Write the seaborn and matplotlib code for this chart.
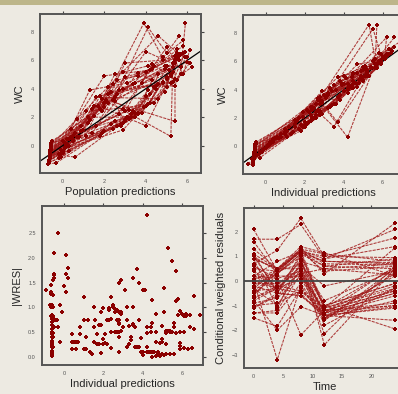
import numpy as np
import pandas as pd
import matplotlib
matplotlib.use('Agg')
import matplotlib.pyplot as plt
from matplotlib.patches import Rectangle
import seaborn as sns

# sampling times
times = [0, 4, 8, 12, 24]

# per-time values, one entry per subject (45 subjects)
pred_t0 = [-0.62, -0.6, -0.66, -0.58, -0.61, -0.55, -0.64, -0.6, -0.57, -0.62, -0.7, -0.59, -0.56, -0.63, -0.6,
           -0.66, -0.57, -0.61, -0.53, -0.6, -0.62, -0.65, -0.58, -0.6, -0.68, -0.59, -0.55, -0.63, -0.61, -0.57,
           -0.66, -0.6, -0.62, -0.56, -0.6, -0.64, -0.59, -0.62, -0.57, -0.63, -0.6, -0.65, -0.58, -0.61, -0.55]
ipred_t0 = [-0.6, -0.58, -0.65, -0.55, -0.6, -0.5, -0.63, -0.6, -0.56, -0.61, -0.67, -0.57, -0.54, -0.62, -0.6,
            -0.65, -0.55, -0.6, -0.5, -0.59, -0.62, -0.64, -0.56, -0.6, -0.66, -0.58, -0.53, -0.62, -0.61, -0.57,
            -0.65, -0.59, -0.62, -0.55, -0.6, -0.63, -0.57, -0.61, -0.55, -0.62, -0.59, -0.64, -0.56, -0.6, -0.52]
dv_t0 = [-0.9, -0.5, -1.2, -0.3, -0.7, 0.2, -1.0, -0.6, -0.2, -0.8, -1.3, -0.4, 0.0, -0.9, -0.6,
         -1.1, -0.1, -0.7, 0.3, -0.5, -0.8, -1.0, -0.3, -0.6, -1.2, -0.4, 0.1, -0.9, -0.7, -0.2,
         -1.1, -0.5, -0.8, 0.0, -0.6, -1.0, -0.3, -0.7, -0.1, -0.9, -0.4, -1.1, -0.2, -0.6, 0.2]
cwres_t0 = [-0.7, 0.2, -1.3, 0.7, -0.2, 1.7, -0.9, 0.0, 0.9, -0.4, -1.5, 0.4, 1.3, -0.6, 0.0,
            -1.1, 1.1, -0.2, 2.1, 0.2, -0.4, -0.8, 0.6, 0.1, -1.3, 0.5, 1.6, -0.7, -0.3, 0.9,
            -1.0, 0.2, -0.5, 1.0, -0.1, -0.8, 0.7, -0.3, 1.1, -0.6, 0.4, -1.1, 0.9, 0.05, 1.0]
iwres_t0 = [0.7, 0.2, 1.3, 0.6, 0.25, 1.65, 0.85, 0.05, 0.8, 0.45, 1.45, 0.4, 1.25, 0.65, 0.02,
            1.05, 1.0, 0.2, 2.1, 0.2, 0.4, 0.83, 0.6, 0.08, 1.26, 0.47, 1.6, 0.7, 0.3, 0.82,
            1.0, 0.22, 0.5, 1.0, 0.1, 0.76, 0.75, 0.32, 1.55, 0.55, 0.3, 1.03, 0.78, 0.12, 1.68]

pred_t4 = [0.2, 0.9, -0.1, 1.8, 0.3, 2.5, -0.2, 0.5, 1.3, 0.1, -0.3, 0.7, 2.9, 0.2, 0.6,
           0.0, 1.5, 0.3, 2.2, 0.8, 0.4, -0.1, 1.0, 0.5, -0.2, 0.6, 1.9, 0.2, 0.3, 1.2,
           0.0, 0.9, 0.1, 2.0, 0.5, -0.1, 1.6, 0.4, 2.7, 0.0, 1.1, 0.1, 3.0, 0.7, 1.4]
ipred_t4 = [0.1, 1.2, -0.6, 2.4, 0.4, 3.1, -0.5, 0.4, 1.6, 0.0, -0.9, 0.6, 4.5, 0.4, -0.3,
            -0.3, 1.9, 0.1, 2.8, 0.7, 0.5, -0.2, 1.1, 0.6, -0.7, 0.8, 2.2, 0.1, -0.2, 1.5,
            -0.35, 1.0, 0.2, 2.5, 0.4, -0.45, 1.5, 1.0, 2.3, 0.2, 0.8, -0.1, 2.6, 1.5, 1.0]
dv_t4 = [0.0, 1.4, -0.8, 2.6, 0.5, 3.4, -0.6, 0.3, 1.8, -0.1, -1.2, 0.6, 5.2, 0.5, -0.8,
         -0.4, 2.1, 0.0, 3.0, 0.6, 0.6, -0.3, 1.1, 0.7, -0.9, 0.9, 2.4, 0.1, -0.4, 1.6,
         -0.5, 1.0, 0.2, 2.7, 0.4, -0.6, 1.4, 1.2, 2.2, 0.3, 0.7, -0.2, 2.4, 1.9, 0.9]
cwres_t4 = [-0.3, 0.8, -1.2, 1.25, 0.3, 1.7, -0.7, -0.3, 0.5, -0.3, -1.85, -0.2, 0.5, 0.5, -3.2,
            -0.6, 0.5, -0.5, 0.4, -0.3, 0.3, -0.3, 0.1, 0.3, -1.3, 0.4, 0.3, -0.2, -1.0, 0.5,
            -0.9, 0.1, 0.2, 0.4, -0.1, -2.0, -0.4, 0.45, -0.5, 0.4, -0.5, -0.5, -1.1, 0.45, -0.4]
iwres_t4 = [2.05, 0.75, 1.05, 1.2, 0.3, 1.35, 0.6, 0.3, 0.75, 1.43, 1.35, 0.15, 1.14, 0.45, 2.5,
            0.6, 0.9, 1.3, 1.5, 0.3, 0.3, 0.3, 0.15, 0.3, 1.05, 0.45, 0.75, 1.68, 1.05, 0.6,
            0.75, 0.15, 1.8, 1.05, 0.15, 0.75, 0.3, 1.2, 0.75, 1.6, 0.6, 0.9, 0.9, 1.0, 0.75]

pred_t8 = [2.9, 2.6, 2.5, 3.9, 1.6, 4.1, 2.3, 2.0, 3.0, 2.8, 1.9, 1.8, 4.6, 3.2, 3.5,
           1.2, 2.5, 2.9, 4.4, 2.2, 1.5, 2.6, 3.6, 1.9, 2.0, 2.3, 4.0, 3.0, 1.7, 2.4,
           2.4, 2.1, 3.1, 3.0, 1.4, 1.8, 2.7, 1.3, 5.0, 1.1, 2.2, 2.9, 4.3, 2.0, 3.6]
ipred_t8 = [2.7, 3.8, 2.0, 5.3, 2.7, 5.5, 1.8, 2.6, 4.1, 2.0, 1.3, 2.8, 6.2, 2.8, 2.8,
            1.7, 4.0, 2.1, 5.1, 3.0, 2.3, 1.9, 2.8, 2.7, 1.4, 3.2, 5.8, 2.2, 2.4, 3.5,
            1.7, 2.8, 2.4, 4.7, 2.1, 1.1, 3.4, 2.9, 6.3, 1.9, 3.3, 1.8, 5.1, 3.7, 4.5]
dv_t8 = [2.6, 4.6, 1.7, 8.6, 3.4, 8.3, 1.5, 3.0, 4.8, 1.4, 0.9, 3.5, 7.7, 2.5, 2.3,
         2.0, 5.0, 1.6, 5.6, 3.6, 2.8, 1.4, 2.2, 3.3, 1.0, 3.8, 6.6, 1.7, 2.8, 4.3,
         1.2, 3.2, 2.0, 5.8, 2.6, 0.7, 3.9, 3.9, 6.9, 2.4, 4.1, 1.1, 5.7, 4.9, 5.1]
cwres_t8 = [0.5, 1.2, 0.3, 2.55, 1.1, 2.3, 0.2, 0.6, 1.2, -0.5, -0.3, 0.8, 1.4, 0.5, -0.2,
            0.4, 1.3, -0.6, 1.2, 0.6, 1.1, 0.1, -2.2, 1.0, -0.1, 1.2, 1.3, -0.4, 0.5, 1.15,
            -0.4, 0.4, 0.2, 1.25, 0.3, -1.05, 0.3, 1.3, 1.1, 0.7, 0.9, -0.6, 0.8, 1.2, 1.0]
iwres_t8 = [0.5, 1.5, 0.25, 2.2, 0.95, 1.93, 0.25, 0.5, 1.35, 0.35, 0.1, 0.75, 0.87, 0.5, 0.1,
            0.45, 1.35, 0.45, 1.38, 0.6, 0.95, 0.08, 0.68, 0.75, 0.05, 1.0, 0.85, 0.25, 0.5, 1.0,
            0.25, 0.4, 0.18, 0.87, 0.27, 0.4, 0.33, 1.56, 0.15, 0.64, 0.62, 0.63, 0.9, 1.77, 1.14]

pred_t12 = [4.2, 3.6, 3.3, 4.8, 4.6, 5.0, 3.2, 2.6, 4.3, 3.8, 2.8, 5.3, 5.6, 4.4, 2.5,
            3.3, 4.1, 4.2, 5.4, 3.4, 2.9, 3.5, 4.9, 5.2, 3.0, 5.2, 5.7, 2.4, 4.0, 4.0,
            3.6, 5.4, 4.1, 4.8, 3.5, 3.4, 5.5, 3.1, 5.8, 4.0, 5.4, 3.9, 3.8, 4.2, 5.0]
ipred_t12 = [3.5, 4.4, 2.6, 5.6, 3.8, 5.9, 2.4, 3.2, 5.0, 2.9, 2.0, 4.8, 6.1, 3.6, 2.9,
             2.5, 5.0, 3.5, 5.0, 3.9, 3.6, 2.6, 4.2, 4.2, 2.3, 4.7, 5.6, 2.9, 3.5, 4.7,
             2.8, 3.7, 3.4, 5.5, 4.0, 2.8, 5.0, 3.9, 5.3, 3.3, 4.7, 3.2, 4.2, 4.9, 4.5]
dv_t12 = [3.0, 4.9, 2.2, 6.2, 3.3, 6.5, 1.9, 3.6, 5.4, 2.3, 1.5, 4.5, 6.4, 3.0, 3.1,
          2.0, 5.6, 3.0, 4.7, 4.3, 4.0, 2.0, 3.8, 0.65, 1.8, 4.4, 5.5, 3.2, 1.4, 5.2,
          2.3, 1.7, 2.9, 6.0, 4.4, 2.4, 4.6, 4.4, 5.0, 2.8, 4.2, 2.7, 4.4, 5.3, 4.1]
cwres_t12 = [-1.3, 0.6, -1.2, 1.0, -1.1, 0.9, -1.4, -1.0, 0.8, -1.5, -1.4, 0.5, 1.15, -1.2, -1.6,
             -1.3, 1.1, -1.3, -1.0, -0.2, 0.6, -1.5, -1.2, -2.6, -1.5, 0.4, 0.3, -1.1, -1.8, 0.8,
             -1.3, -2.15, -1.2, 0.9, 0.5, -1.4, -1.3, 0.7, -1.1, -0.8, -1.6, -1.4, -1.0, 1.0, -1.1]
iwres_t12 = [0.67, 0.5, 0.9, 0.6, 0.75, 0.5, 0.77, 0.2, 0.35, 0.87, 0.98, 0.05, 0.5, 0.6, 0.9,
             1.0, 0.35, 0.65, 0.3, 0.1, 0.2, 0.97, 0.6, 2.87, 0.98, 0.02, 0.05, 0.52, 1.6, 0.3,
             0.67, 1.78, 0.4, 0.5, 0.03, 0.9, 0.62, 0.38, 0.52, 0.25, 0.5, 0.75, 0.48, 0.28, 0.68]

pred_t24 = [5.0, 5.5, 4.5, 5.8, 5.2, 5.6, 4.2, 5.3, 5.7, 4.8, 4.0, 5.9, 6.0, 5.0, 5.4,
            4.4, 5.8, 5.1, 6.2, 5.6, 4.9, 4.3, 5.7, 5.3, 4.1, 5.5, 5.9, 5.0, 5.2, 5.6,
            4.5, 5.4, 4.8, 5.8, 5.3, 4.6, 6.1, 4.9, 6.1, 4.6, 5.9, 5.0, 6.0, 5.4, 5.5]
ipred_t24 = [5.4, 6.2, 4.2, 6.9, 5.1, 6.6, 3.8, 5.2, 6.2, 4.5, 3.7, 6.4, 6.1, 4.8, 5.7,
             4.2, 6.3, 5.2, 5.7, 5.9, 5.2, 4.5, 5.2, 5.6, 4.0, 5.9, 5.7, 4.9, 5.0, 6.1,
             4.3, 5.8, 4.6, 6.6, 5.4, 4.4, 5.9, 5.4, 6.5, 4.9, 6.1, 4.4, 5.9, 6.0, 6.4]
dv_t24 = [5.6, 6.5, 4.0, 7.4, 5.0, 7.7, 3.6, 5.2, 6.4, 4.4, 3.5, 6.6, 6.2, 4.7, 5.8,
          4.1, 6.5, 5.3, 5.5, 6.0, 5.4, 4.6, 5.0, 5.8, 3.9, 6.1, 8.6, 4.8, 4.9, 6.3,
          4.2, 6.0, 4.5, 7.0, 5.5, 4.3, 5.8, 5.6, 6.7, 5.0, 6.2, 4.1, 5.9, 6.3, 6.8]
cwres_t24 = [0.6, 0.9, -1.0, 1.75, -0.3, 2.1, -1.6, -0.1, 0.7, -0.8, -1.05, 0.7, 0.2, -0.4, 0.5,
             -0.5, 0.8, 0.2, -1.95, 0.4, 0.5, 0.3, -0.9, 0.5, -0.3, 0.6, 2.35, -0.2, -0.3, 0.75,
             -0.5, 0.6, -0.4, 1.4, 0.25, -0.6, -1.0, 0.65, 0.55, 0.45, 0.35, -1.1, -0.1, 0.95, 1.35]
iwres_t24 = [0.5, 0.87, 0.2, 0.85, 0.03, 1.23, 0.2, 0.52, 0.82, 0.1, 0.2, 0.6, 0.18, 0.1, 1.13,
             0.1, 0.15, 0.26, 0.48, 0.92, 0.48, 0.0, 0.05, 0.68, 0.1, 0.27, 1.73, 0.02, 0.05, 0.85,
             0.1, 1.17, 0.1, 0.56, 0.05, 0.1, 0.22, 0.52, 0.17, 0.27, 0.82, 0.6, 0.15, 0.87, 0.85]

# long table, ordered by subject then time
pred_all = [pred_t0, pred_t4, pred_t8, pred_t12, pred_t24]
ipred_all = [ipred_t0, ipred_t4, ipred_t8, ipred_t12, ipred_t24]
dv_all = [dv_t0, dv_t4, dv_t8, dv_t12, dv_t24]
cwres_all = [cwres_t0, cwres_t4, cwres_t8, cwres_t12, cwres_t24]
iwres_all = [iwres_t0, iwres_t4, iwres_t8, iwres_t12, iwres_t24]

rows = []
for i in range(len(dv_t0)):
    for k, t in enumerate(times):
        rows.append({'ID': i, 'TIME': t, 'PRED': pred_all[k][i], 'IPRED': ipred_all[k][i],
                     'DV': dv_all[k][i], 'CWRES': cwres_all[k][i], 'IWRES': iwres_all[k][i]})
df = pd.DataFrame(rows)

# colours
BG = '#EDEAE2'
STRIP = '#BDB68A'
RED = '#8B0000'
LINE_RED = '#A01818'
FRAME = '#555555'

sns.set_style('white')
plt.rcParams['font.family'] = ['Liberation Sans', 'DejaVu Sans']

fig = plt.figure(figsize=(3.98, 3.94), dpi=100, facecolor=BG)
fig.add_artist(Rectangle((0, 1 - 5 / 394), 1, 5 / 394, transform=fig.transFigure,
                         facecolor=STRIP, edgecolor='none'))


def make_ax(x0, y0, x1, y1):
    # pixel box -> figure fraction
    ax = fig.add_axes([x0 / 398, 1 - y1 / 394, (x1 - x0) / 398, (y1 - y0) / 394])
    ax.set_facecolor(BG)
    for s in ax.spines.values():
        s.set_color(FRAME)
        s.set_linewidth(1.4)
    ax.tick_params(direction='out', length=2.5, width=0.8, color='#444444', labelsize=4,
                   labelcolor='#555555', top=True, right=True, labeltop=False, labelright=False, pad=2)
    return ax


def draw_lines(ax, x, y):
    # one line per subject, in time order
    for _, g in df.groupby('ID'):
        ax.plot(g[x], g[y], color=LINE_RED, linewidth=0.75, alpha=0.85, linestyle=(0, (3, 1)))
    sns.scatterplot(data=df, x=x, y=y, ax=ax, color=RED, marker='P', s=8, linewidth=0, zorder=3)


# Population predictions vs WC
ax1 = make_ax(40, 14, 201, 173)
draw_lines(ax1, 'PRED', 'DV')
ax1.axline((0, 0), slope=1, color='black', linewidth=0.9)
ax1.set_xlim(-1.09, 6.65)
ax1.set_ylim(-1.92, 9.24)
ax1.set_xticks([0, 2, 4, 6])
ax1.set_yticks([0, 2, 4, 6, 8])
ax1.set_xlabel('Population predictions', fontsize=8, labelpad=2)
ax1.set_ylabel('WC', fontsize=8, labelpad=4)

# Individual predictions vs WC
ax2 = make_ax(243, 15, 404, 174)
draw_lines(ax2, 'IPRED', 'DV')
ax2.axline((0, 0), slope=1, color='black', linewidth=0.9)
ax2.set_xlim(-1.16, 7.09)
ax2.set_ylim(-1.94, 9.27)
ax2.set_xticks([0, 2, 4, 6])
ax2.set_yticks([0, 2, 4, 6, 8])
ax2.set_xlabel('Individual predictions', fontsize=8, labelpad=2)
ax2.set_ylabel('WC', fontsize=8, labelpad=4)

# |IWRES| vs individual predictions
ax3 = make_ax(42, 206, 203, 365)
sns.scatterplot(data=df, x='IPRED', y='IWRES', ax=ax3, color=RED, marker='P', s=8, linewidth=0)
ax3.set_xlim(-1.12, 7.07)
ax3.set_ylim(-0.17, 3.05)
ax3.set_xticks([0, 2, 4, 6])
ax3.set_yticks([0.0, 0.5, 1.0, 1.5, 2.0, 2.5])
ax3.set_yticklabels(['0.0', '0.5', '1.0', '1.5', '2.0', '2.5'])
ax3.set_xlabel('Individual predictions', fontsize=8, labelpad=2)
ax3.set_ylabel('|WRES|', fontsize=8, labelpad=4)

# CWRES vs time
ax4 = make_ax(244, 208, 405, 368)
draw_lines(ax4, 'TIME', 'CWRES')
ax4.axhline(0, color='#444444', linewidth=1.3, zorder=4)
ax4.set_xlim(-1.65, 25.7)
ax4.set_ylim(-3.54, 2.97)
ax4.set_xticks([0, 5, 10, 15, 20])
ax4.set_yticks([-3, -2, -1, 0, 1, 2])
ax4.set_xlabel('Time', fontsize=8, labelpad=2)
ax4.set_ylabel('Conditional weighted residuals', fontsize=8, labelpad=4)

fig.savefig('out.png', dpi=100, facecolor=BG)
